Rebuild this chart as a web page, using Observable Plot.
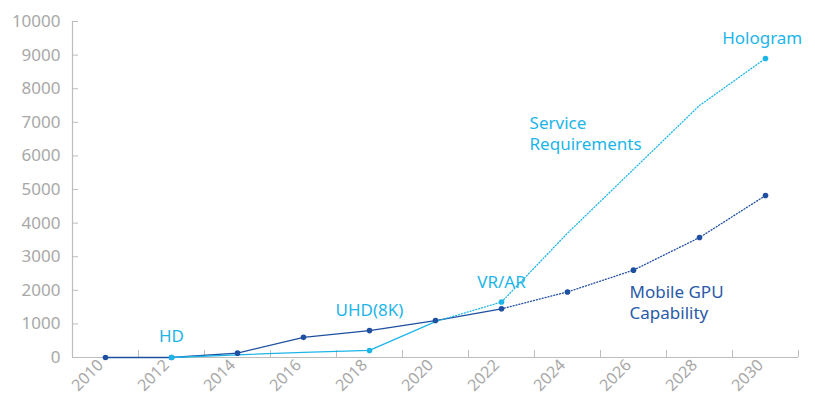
<!DOCTYPE html>
<html>
<head>
<meta charset="utf-8">
<script src="https://cdn.jsdelivr.net/npm/d3@7"></script>
<script src="https://cdn.jsdelivr.net/npm/@observablehq/plot@0.6"></script>
<style>
  html, body { margin: 0; padding: 0; background: #fff; }
  #chart { width: 815px; height: 401px; }
</style>
</head>
<body>
<div id="chart"></div>
<script>
// ---- data ----
const years = [2010, 2012, 2014, 2016, 2018, 2020, 2022, 2024, 2026, 2028, 2030];
const gpuValues = [0, 0, 130, 600, 800, 1100, 1450, 1950, 2600, 3570, 4820];
const serviceValues = [null, 0, 80, 150, 210, 1070, 1650, 3700, 5600, 7500, 8900];
const gpuActualUntil = 2022;
const serviceActualUntil = 2020;
const serviceMarkedYears = [2012, 2018, 2022, 2030];
const bandEdges = [2009, 2011, 2013, 2015, 2017, 2019, 2021, 2023, 2025, 2027, 2029, 2031];
const yTicks = [0, 1000, 2000, 3000, 4000, 5000, 6000, 7000, 8000, 9000, 10000];

const pointLabels = ["HD", "UHD(8K)", "VR/AR", "Hologram"];
const pointLabelYears = [2012, 2018, 2022, 2029.9];
const pointLabelValues = [625, 1400, 2230, 9490];
const seriesLabels = ["Service\nRequirements", "Mobile GPU\nCapability"];
const seriesLabelYears = [2022.85, 2025.88];
const seriesLabelValues = [6680, 1670];

// ---- build tables ----
const gpu = years.map((y, i) => ({year: y, value: gpuValues[i]}));
const service = years.map((y, i) => ({year: y, value: serviceValues[i]})).filter(d => d.value !== null);
const pointNotes = pointLabels.map((t, i) => ({text: t, year: pointLabelYears[i], value: pointLabelValues[i]}));
const seriesNotes = seriesLabels.map((t, i) => ({text: t, year: seriesLabelYears[i], value: seriesLabelValues[i], series: i}));

const dark = "#1f4fa0";
const light = "#1db5e8";
const axisGrey = "#bdbdbd";
const labelGrey = "#a8a8a8";
const font = "'Noto Sans', 'Open Sans', sans-serif";

const chart = Plot.plot({
  width: 815,
  height: 401,
  marginLeft: 72,
  marginRight: 17,
  marginTop: 21,
  marginBottom: 44,
  style: {fontFamily: font, background: "#fff"},
  x: {type: "linear", domain: [2009, 2031], label: null},
  y: {domain: [0, 10000], label: null},
  marks: [
    // axes frame
    Plot.ruleX([2009], {stroke: axisGrey, strokeWidth: 1.2}),
    Plot.ruleY([0], {stroke: axisGrey, strokeWidth: 1.2}),
    Plot.axisX({ticks: bandEdges, tickFormat: () => "", tickSize: 7, dy: -7, color: axisGrey, label: null}),
    Plot.axisX({ticks: years, tickFormat: d => String(d), tickSize: 0, tickPadding: 5, tickRotate: -45, dx: -5, color: labelGrey, fontSize: 16, label: null}),
    Plot.axisY({ticks: yTicks, tickFormat: () => "", tickSize: 6, dx: 6, color: axisGrey, label: null}),
    Plot.axisY({ticks: yTicks, tickFormat: d => String(d), tickSize: 0, tickPadding: 12, color: labelGrey, fontSize: 17, label: null}),
    // mobile gpu
    Plot.line(gpu.filter(d => d.year <= gpuActualUntil), {x: "year", y: "value", stroke: dark, strokeWidth: 1.3}),
    Plot.line(gpu.filter(d => d.year >= gpuActualUntil), {x: "year", y: "value", stroke: dark, strokeWidth: 1.3, strokeDasharray: "1,2"}),
    // service requirements
    Plot.line(service.filter(d => d.year <= serviceActualUntil), {x: "year", y: "value", stroke: light, strokeWidth: 1.3}),
    Plot.line(service.filter(d => d.year >= serviceActualUntil), {x: "year", y: "value", stroke: light, strokeWidth: 1.3, strokeDasharray: "1,2"}),
    Plot.dot(gpu, {x: "year", y: "value", r: 2.8, fill: dark}),
    Plot.dot(service.filter(d => serviceMarkedYears.includes(d.year)), {x: "year", y: "value", r: 2.8, fill: light}),
    // labels
    Plot.text(pointNotes, {x: "year", y: "value", text: "text", fill: light, fontSize: 17, textAnchor: "middle"}),
    Plot.text(seriesNotes, {x: "year", y: "value", text: "text", fill: d => d.series === 0 ? light : "#2a5aa8", fontSize: 17, lineHeight: 1.25, textAnchor: "start"})
  ]
});
document.getElementById("chart").appendChild(chart);
</script>
</body>
</html>
